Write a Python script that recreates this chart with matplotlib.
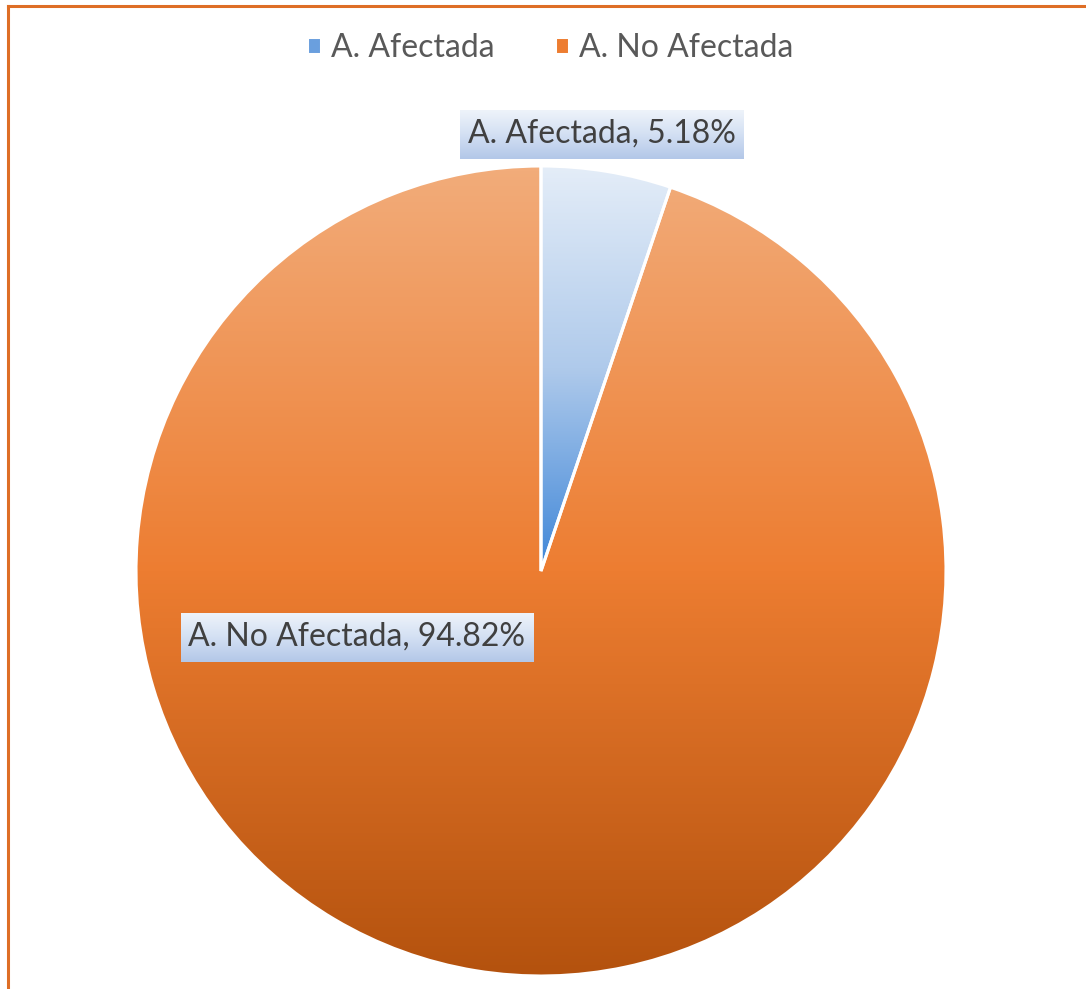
import matplotlib.pyplot as plt
import numpy as np
from matplotlib.colors import LinearSegmentedColormap
from matplotlib.lines import Line2D

categories = ["A. Afectada", "A. No Afectada"]
shares = [5.18, 94.82]

W, H = 1086, 989
CX, CY, R = 541, 418, 405

plt.rcParams["font.family"] = ["Lato", "DejaVu Sans"]

fig = plt.figure(figsize=(W / 100, H / 100), dpi=100)
ax = fig.add_axes([0, 0, 1, 1])

wedges, _ = ax.pie(
    shares,
    colors=["#6A9FDE", "#ED7D31"],
    startangle=90,
    counterclock=False,
    center=(CX, CY),
    radius=R,
    frame=True,
    wedgeprops=dict(edgecolor="white", linewidth=2.2),
)
ax.set_xlim(0, W)
ax.set_ylim(0, H)
ax.set_aspect("equal")
ax.axis("off")

leg = ax.legend(
    wedges, categories, loc="center", bbox_to_anchor=(550 / W, 1 - 48 / H),
    ncol=2, frameon=False, fontsize=23, handlelength=0.45, handleheight=0.45,
    handletextpad=0.3, columnspacing=1.9, labelcolor="#595959",
)

# vertical gradients, one per wedge, clipped to the wedge outline
grads = [
    ["#E4EDF8", "#AFCAEB", "#3E86D8"],
    ["#F2AC7A", "#ED7D31", "#B4520E"],
]
for i, (wedge, stops) in enumerate(zip(wedges, grads)):
    cmap = LinearSegmentedColormap.from_list(f"g{i}", stops)
    x0, y0, x1, y1 = wedge.get_path().get_extents(wedge.get_patch_transform()).extents
    grad = np.linspace(0, 1, 256).reshape(-1, 1)
    im = ax.imshow(grad, cmap=cmap, extent=(x0, x1, y0, y1), origin="upper",
                   aspect="auto", zorder=1, interpolation="bicubic")
    im.set_clip_path(wedge)
    wedge.set_facecolor("none")
    wedge.set_zorder(3)
ax.set_xlim(0, W)
ax.set_ylim(0, H)

# data labels with a light blue gradient box
label_pos = [(602, H - 134), (357, H - 637)]
box_cmap = LinearSegmentedColormap.from_list("box", ["#EEF3FA", "#D3E0F3", "#B3C7E8"])
fig.canvas.draw()
renderer = fig.canvas.get_renderer()
for name, val, (tx, ty) in zip(categories, shares, label_pos):
    t = ax.text(tx, ty, f"{name}, {val:.2f}%", ha="center", va="center",
                fontsize=23, color="#404040", zorder=6)
    bb = t.get_window_extent(renderer).transformed(ax.transData.inverted())
    bx0, bx1 = bb.x0 - 8, bb.x1 + 8
    by0, by1 = ty - 25, ty + 24
    grad = np.linspace(0, 1, 64).reshape(-1, 1)
    ax.imshow(grad, cmap=box_cmap, extent=(bx0, bx1, by0, by1), origin="upper",
              aspect="auto", zorder=5)
ax.set_xlim(0, W)
ax.set_ylim(0, H)

# outer chart frame (top and left edges visible)
fig.add_artist(Line2D([8 / W, 8 / W], [0, 1 - 6 / H], transform=fig.transFigure,
                      color="#DE6E26", linewidth=2.2))
fig.add_artist(Line2D([8 / W, 1], [1 - 6 / H, 1 - 6 / H], transform=fig.transFigure,
                      color="#DE6E26", linewidth=2.2))

fig.savefig("out.png", dpi=100)
